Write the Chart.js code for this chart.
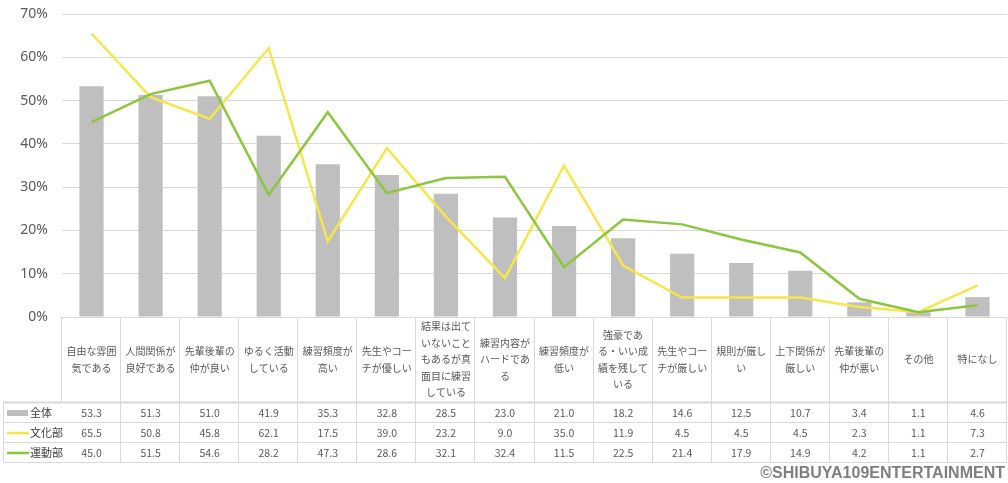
<!DOCTYPE html>
<html>
<head>
<meta charset="utf-8">
<script src="https://cdn.jsdelivr.net/npm/chart.js@4"></script>
<style>
html,body{margin:0;padding:0;background:#fff;}
#wrap{width:1008px;height:483px;position:relative;}
</style>
</head>
<body>
<div id="wrap"><canvas id="c" width="1008" height="483"></canvas></div>
<script>
const categories = [
  ["自由な雰囲","気である"],
  ["人間関係が","良好である"],
  ["先輩後輩の","仲が良い"],
  ["ゆるく活動","している"],
  ["練習頻度が","高い"],
  ["先生やコー","チが優しい"],
  ["結果は出て","いないこと","もあるが真","面目に練習","している"],
  ["練習内容が","ハードであ","る"],
  ["練習頻度が","低い"],
  ["強豪であ","る・いい成","績を残して","いる"],
  ["先生やコー","チが厳しい"],
  ["規則が厳し","い"],
  ["上下関係が","厳しい"],
  ["先輩後輩の","仲が悪い"],
  ["その他"],
  ["特になし"]
];
const seriesNames = ["全体","文化部","運動部"];
const zentai = [53.3,51.3,51.0,41.9,35.3,32.8,28.5,23.0,21.0,18.2,14.6,12.5,10.7,3.4,1.1,4.6];
const bunka  = [65.5,50.8,45.8,62.1,17.5,39.0,23.2,9.0,35.0,11.9,4.5,4.5,4.5,2.3,1.1,7.3];
const undo   = [45.0,51.5,54.6,28.2,47.3,28.6,32.1,32.4,11.5,22.5,21.4,17.9,14.9,4.2,1.1,2.7];
const yTicks = [0,10,20,30,40,50,60,70];
const copyright = "©SHIBUYA109ENTERTAINMENT";

const COL_BAR = "#bfbfbf", COL_Y = "#f5e64a", COL_G = "#8cc63f";
const TXT = "#595959", GRID = "#d9d9d9";
const JP = '"Noto Sans CJK JP", "Noto Sans", sans-serif';

const tablePlugin = {
  id: 'dataTable',
  afterDraw(chart) {
    const ctx = chart.ctx, x = chart.scales.x, ca = chart.chartArea;
    const n = categories.length;
    const w = (ca.right - ca.left) / n;
    const top = ca.bottom, hdrBottom = top + 85, rowH = 20;
    const tableBottom = hdrBottom + rowH * 3;
    const leftEdge = 3;
    ctx.save();
    ctx.strokeStyle = GRID; ctx.lineWidth = 1;
    for (let i = 0; i <= n; i++) {
      const bx = Math.round(ca.left + i * w) - 0.5;
      ctx.beginPath();
      ctx.moveTo(bx, top);
      ctx.lineTo(bx, i === 0 ? hdrBottom : tableBottom);
      ctx.stroke();
    }
    ctx.beginPath(); ctx.moveTo(leftEdge + 0.5, hdrBottom); ctx.lineTo(leftEdge + 0.5, tableBottom); ctx.stroke();
    for (let r = 0; r <= 3; r++) {
      const y = hdrBottom + r * rowH + 0.5;
      ctx.lineWidth = r === 0 ? 2 : 1;
      ctx.beginPath(); ctx.moveTo(leftEdge, y); ctx.lineTo(ca.right, y); ctx.stroke();
    }
    ctx.fillStyle = TXT;
    ctx.font = '10px ' + JP;
    ctx.textAlign = 'center'; ctx.textBaseline = 'middle';
    const hc = (top + hdrBottom) / 2, lh = 16.5;
    categories.forEach((lines, i) => {
      const cx = x.getPixelForValue(i);
      const y0 = hc - (lines.length - 1) * lh / 2;
      lines.forEach((t, k) => ctx.fillText(t, cx, y0 + k * lh));
    });
    const rows = [zentai, bunka, undo];
    ctx.font = '10.5px ' + JP;
    rows.forEach((arr, r) => {
      const cy = hdrBottom + r * rowH + rowH / 2 + 1;
      arr.forEach((v, i) => ctx.fillText(v.toFixed(1), x.getPixelForValue(i), cy));
    });
    const cols = [COL_BAR, COL_Y, COL_G];
    rows.forEach((arr, r) => {
      const cy = hdrBottom + r * rowH + rowH / 2 + 1;
      if (r === 0) { ctx.fillStyle = COL_BAR; ctx.fillRect(7, cy - 3, 21, 6); }
      else { ctx.strokeStyle = cols[r]; ctx.lineWidth = 2.5; ctx.beginPath(); ctx.moveTo(7, cy); ctx.lineTo(29, cy); ctx.stroke(); }
      ctx.fillStyle = "#404040"; ctx.textAlign = 'left'; ctx.font = '11px ' + JP;
      ctx.fillText(seriesNames[r], 30, cy);
    });
    ctx.textAlign = 'right'; ctx.fillStyle = '#7f7f7f';
    ctx.font = 'bold 16px "Liberation Sans", Arial, sans-serif';
    ctx.fillText(copyright, 1005, 474);
    ctx.restore();
  }
};

new Chart(document.getElementById('c'), {
  data: {
    labels: categories.map(l => l.join('')),
    datasets: [
      { type: 'line', label: seriesNames[2], data: undo, borderColor: COL_G, borderWidth: 2.5, pointRadius: 0, tension: 0, order: 0 },
      { type: 'line', label: seriesNames[1], data: bunka, borderColor: COL_Y, borderWidth: 2.5, pointRadius: 0, tension: 0, order: 1 },
      { type: 'bar', label: seriesNames[0], data: zentai, backgroundColor: COL_BAR, categoryPercentage: 1, barPercentage: 0.41, order: 2 }
    ]
  },
  options: {
    responsive: false, animation: false,
    layout: { padding: { top: 14, left: 0, right: 1, bottom: 0 } },
    plugins: { legend: { display: false }, tooltip: { enabled: false } },
    scales: {
      x: {
        ticks: { display: false }, grid: { display: false }, border: { display: false },
        afterFit(s) { s.height = 166; s.paddingLeft = 0; s.paddingRight = 0; }
      },
      y: {
        min: 0, max: 70,
        afterBuildTicks(s) { s.ticks = yTicks.map(v => ({ value: v })); },
        ticks: { callback: v => v + '%', color: TXT, font: { size: 14, family: '"Noto Sans", sans-serif' }, padding: 14 },
        grid: { color: GRID, drawTicks: false },
        border: { display: false },
        afterFit(s) { s.width = 62; s.paddingTop = 0; s.paddingBottom = 0; }
      }
    }
  },
  plugins: [tablePlugin]
});
</script>
</body>
</html>
